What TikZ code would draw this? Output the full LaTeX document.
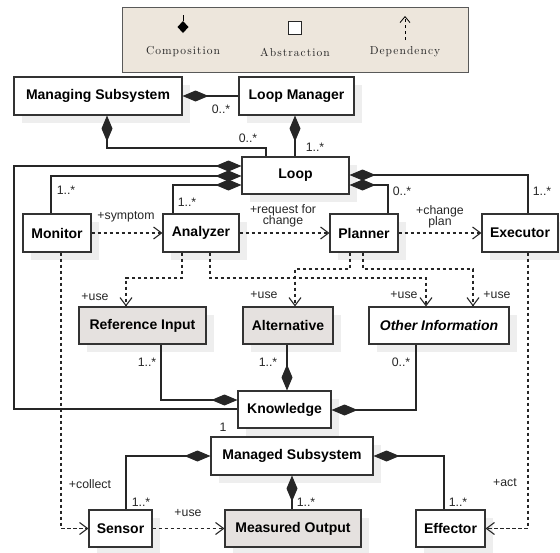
\documentclass[tikz,border=0pt]{standalone}
\usepackage{fontspec}
\setmainfont{Liberation Sans}
\newfontfamily\legendfont{lmroman10-regular}[Extension=.otf,LetterSpace=9]
\usetikzlibrary{arrows.meta,shadows}
\definecolor{legendfill}{RGB}{237,230,220}
\definecolor{grayfill}{RGB}{229,225,223}
\definecolor{shadowgray}{RGB}{238,238,238}
\begin{document}
\begin{tikzpicture}[x=1pt,y=-1pt,
  box/.style={draw=black!80, line width=1.1pt, fill=white, inner sep=0pt,
    font=\bfseries\fontsize{14}{16}\selectfont,
    drop shadow={shadow xshift=8pt,shadow yshift=-8pt,fill=shadowgray,opacity=1}},
  gbox/.style={box, fill=grayfill},
  comp/.style={line width=1.1pt, draw=black!85, arrows={Diamond[length=26pt,width=11pt]-}},
  dep/.style={line width=1.1pt, draw=black!85, dash pattern=on 3.5pt off 2.5pt,
    arrows={-Straight Barb[length=8pt,width=12pt]}},
  lab/.style={font=\fontsize{12.3}{11.5}\selectfont, text=black!85, inner sep=0pt, align=center},
  legtext/.style={font=\legendfont\fontsize{11.5}{13}\selectfont, text=black!85, inner sep=0pt}
]
\useasboundingbox (0,0) rectangle (560,552);

% legend
\node[draw=black!65, line width=1pt, fill=legendfill, minimum width=346pt, minimum height=65pt, inner sep=0pt] (legend) at (295,39.5) {};
\draw[line width=0.9pt] (183,15) -- (183,21);
\fill (183,21) -- (188.5,27) -- (183,33) -- (177.5,27) -- cycle;
\node[draw=black!85, fill=white, line width=0.9pt, minimum size=13pt, inner sep=0pt] (absicon) at (295,28) {};
\coordinate (deptop) at (405,16);
\coordinate (depbot) at (405,40);
\draw[line width=0.8pt, dash pattern=on 3pt off 3pt, arrows={-Straight Barb[length=6pt,width=10pt]}] (depbot) -- (deptop);
\node[legtext] (comptext) at (183,52) {Composition};
\node[legtext] (abstext) at (295,52) {Abstraction};
\node[legtext] (deptext) at (405,52) {Dependency};

% nodes
\node[box,minimum width=168pt,minimum height=38pt] (ms) at (98,96) {Managing Subsystem};
\node[box,minimum width=115pt,minimum height=38pt] (lm) at (296.5,96) {Loop Manager};
\node[box,minimum width=107pt,minimum height=37pt] (loop) at (295.5,175.5) {Loop};
\node[box,minimum width=68pt,minimum height=38pt] (mon) at (57,233) {Monitor};
\node[box,minimum width=76pt,minimum height=38pt] (ana) at (201,233) {Analyzer};
\node[box,minimum width=68pt,minimum height=38pt] (pla) at (364,233) {Planner};
\node[box,minimum width=76pt,minimum height=38pt] (exe) at (520,233) {Executor};
\node[gbox,minimum width=127pt,minimum height=37pt] (ref) at (142.5,325.5) {Reference Input};
\node[gbox,minimum width=90pt,minimum height=37pt] (alt) at (288,325.5) {Alternative};
\node[box,minimum width=140pt,minimum height=37pt,font=\bfseries\itshape\fontsize{14}{16}\selectfont] (oth) at (439,325.5) {Other Information};
\node[box,minimum width=93pt,minimum height=37pt] (kno) at (284.5,409.5) {Knowledge};
\node[box,minimum width=162pt,minimum height=38pt] (mgd) at (292,456) {Managed Subsystem};
\node[box,minimum width=63pt,minimum height=37pt] (sen) at (120.5,528.5) {Sensor};
\node[gbox,minimum width=136pt,minimum height=37pt] (mo) at (293,528.5) {Measured Output};
\node[box,minimum width=69pt,minimum height=37pt] (eff) at (450.5,528.5) {Effector};

% compositions
\draw[comp] (ms.east) -- (lm.west);
\draw[comp] (ms.south -| 107,0) -- (107,148) -| (loop.north -| 266,0);
\draw[comp] (lm.south -| 295,0) -- (loop.north -| 295,0);
\draw[comp] (loop.west |- 0,166) -| (14,409) -- (kno.west |- 0,409);
\draw[comp] (loop.west |- 0,176) -| (mon.north -| 51,0);
\draw[comp] (loop.west |- 0,185) -| (ana.north -| 173,0);
\draw[comp] (loop.east |- 0,175) -| (exe.north -| 528,0);
\draw[comp] (loop.east |- 0,185) -| (pla.north -| 388,0);
\draw[comp] (kno.west |- 0,400) -| (ref.south -| 161,0);
\draw[comp] (kno.north -| 287,0) -- (alt.south -| 287,0);
\draw[comp] (kno.east |- 0,410) -| (oth.south -| 416,0);
\draw[comp] (mgd.west |- 0,456) -| (sen.north -| 126,0);
\draw[comp] (mgd.south -| 292,0) -- (mo.north -| 292,0);
\draw[comp] (mgd.east |- 0,456) -| (eff.north -| 444,0);

% dependencies
\draw[dep] (mon.east) -- (ana.west);
\draw[dep] (ana.east) -- (pla.west);
\draw[dep] (pla.east) -- (exe.west);
\draw[dep] (ana.south -| 182,0) -- (182,278) -| (ref.north -| 126,0);
\draw[dep] (ana.south -| 210,0) -- (210,278) -| (oth.north -| 426,0);
\draw[dep] (pla.south -| 350,0) -- (350,269) -| (alt.north -| 295,0);
\draw[dep] (pla.south -| 363,0) -- (363,269) -| (oth.north -| 473,0);
\draw[dep] (mon.south -| 61,0) |- (sen.west);
\draw[dep] (exe.south -| 528,0) |- (eff.east);
\draw[dep] (sen.east) -- (mo.west);

% labels
\node[lab] (l1) at (221,109) {0..*};
\node[lab] (l2) at (248,138) {0..*};
\node[lab] (l3) at (315,147) {1..*};
\node[lab] (l4) at (66,190) {1..*};
\node[lab] (l5) at (187,202) {1..*};
\node[lab] (l6) at (402,191) {0..*};
\node[lab] (l7) at (542,191) {1..*};
\node[lab] (l8) at (126,217) {+symptom};
\node[lab] (l9) at (283,216) {+request for\\change};
\node[lab] (l10) at (440,217) {+change\\plan};
\node[lab] (l11) at (95,297) {+use};
\node[lab] (l12) at (264,295) {+use};
\node[lab] (l13) at (404,295) {+use};
\node[lab] (l14) at (497,295) {+use};
\node[lab] (l15) at (147,362) {1..*};
\node[lab] (l16) at (268,362) {1..*};
\node[lab] (l17) at (401,362) {0..*};
\node[lab] (l18) at (223,427) {1};
\node[lab] (l19) at (90,484) {+collect};
\node[lab] (l20) at (505,483) {+act};
\node[lab] (l21) at (141,502) {1..*};
\node[lab] (l22) at (306,502) {1..*};
\node[lab] (l23) at (458,502) {1..*};
\node[lab] (l24) at (188,513) {+use};
\end{tikzpicture}
\end{document}
